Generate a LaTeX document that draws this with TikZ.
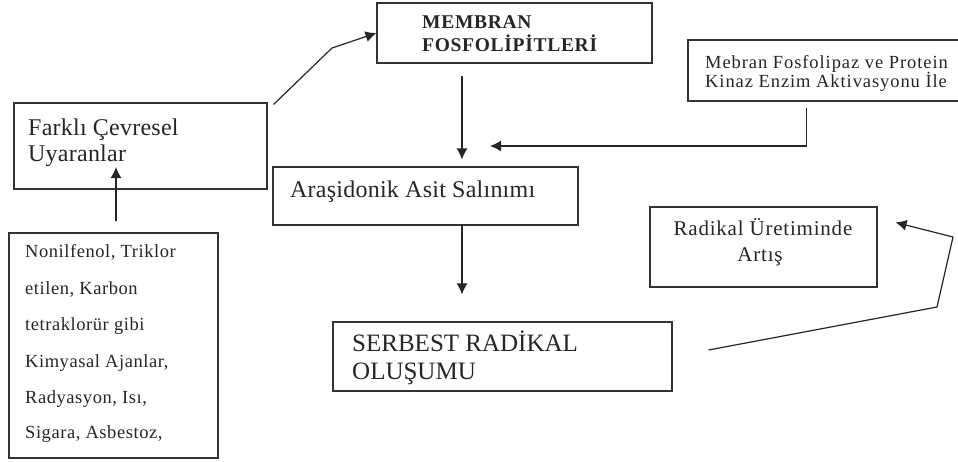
\documentclass[tikz,border=0pt]{standalone}
\usepackage{fontspec}
\setmainfont{Liberation Serif}
\usetikzlibrary{arrows.meta,calc}

\begin{document}
\begin{tikzpicture}[x=1pt,y=-1pt,
  box/.style={draw=black!80,line width=1.1pt,inner sep=0pt,fill=none},
  txt/.style={anchor=base west,inner sep=0pt,text=black!85},
  ctxt/.style={anchor=base,inner sep=0pt,text=black!85},
  arr/.style={draw=black!85,line width=1.2pt,-{Latex[length=11pt,width=11pt]}},
  fA/.style={font=\fontsize{24}{26}\selectfont\addfontfeatures{LetterSpace=1}},
  fB/.style={font=\fontsize{19.5}{22}\selectfont\bfseries\addfontfeatures{LetterSpace=3.6}},
  fC/.style={font=\fontsize{18.5}{20}\selectfont\addfontfeatures{LetterSpace=5}},
  fD/.style={font=\fontsize{24}{26}\selectfont\addfontfeatures{LetterSpace=1}},
  fE/.style={font=\fontsize{25}{28}\selectfont},
  fF/.style={font=\fontsize{21}{24}\selectfont\addfontfeatures{LetterSpace=3.7}},
  fG/.style={font=\fontsize{18.5}{20}\selectfont\addfontfeatures{LetterSpace=3}}]
\useasboundingbox[fill=white] (0,0) rectangle (958,461);

% boxes
\node[box,minimum width=253pt,minimum height=86pt] (farkli) at (140.5,146) {};
\node[box,minimum width=275pt,minimum height=60pt] (membran) at (514.5,33) {};
\node[box,minimum width=274pt,minimum height=61pt] (mebran) at (825,70.5) {};
\node[box,minimum width=305pt,minimum height=58pt] (arasidonik) at (425.5,196) {};
\node[box,minimum width=339pt,minimum height=69pt] (serbest) at (502.5,356.5) {};
\node[box,minimum width=227pt,minimum height=80pt] (radikal) at (763.5,247) {};
\node[box,minimum width=209pt,minimum height=225pt] (nonil) at (113.5,345.5) {};

% box texts
\node[txt,fA] (farkliA) at (28,135) {Farklı Çevresel};
\node[txt,fA] (farkliB) at (28,161) {Uyaranlar};

\node[txt,fB] (membranA) at (422,28) {MEMBRAN};
\node[txt,fB] (membranB) at (422,51) {FOSFOLİPİTLERİ};

\node[txt,fC] (mebranA) at (705,68) {Mebran Fosfolipaz ve Protein};
\node[txt,fC] (mebranB) at (705,87) {Kinaz Enzim Aktivasyonu İle};

\node[txt,fD] (arasidonikA) at (290,197) {Araşidonik Asit Salınımı};

\node[txt,fE] (serbestA) at (352,351) {SERBEST RADİKAL};
\node[txt,fE] (serbestB) at (352,379) {OLUŞUMU};

\node[ctxt,fF] (radikalA) at (763,235) {Radikal Üretiminde};
\node[ctxt,fF] (radikalB) at (760,261) {Artış};

\node[txt,fG] (nonilA) at (25,257) {Nonilfenol, Triklor};
\node[txt,fG] (nonilB) at (25,294) {etilen, Karbon};
\node[txt,fG] (nonilC) at (25,330) {tetraklorür gibi};
\node[txt,fG] (nonilD) at (25,367) {Kimyasal Ajanlar,};
\node[txt,fG] (nonilE) at (25,403) {Radyasyon, Isı,};
\node[txt,fG] (nonilF) at (25,438) {Sigara, Asbestoz,};

% connector end points
\coordinate (bendA) at (332,48);
\coordinate (mebranOut) at ($(mebran.south west)+(119,6)$);
\coordinate (mebranIn) at (490,146);
\coordinate (serbestOut) at ($(serbest.east)+(36,-6.5)$);
\coordinate (loopA) at (937,307);
\coordinate (loopB) at (953,237);
\coordinate (radikalIn) at ($(radikal.north east)+(18,16)$);

% connectors
\draw[arr] ($(farkli.north east)+(6,2)$) -- (bendA) -- (membran.west);
\draw[arr,shorten <=12pt,shorten >=7pt] (462,0 |- membran.south) -- (462,0 |- arasidonik.north);
\draw[arr] (mebranOut) -- (mebranOut |- mebranIn) -- (mebranIn);
\draw[arr,shorten >=27pt] (462,0 |- arasidonik.south) -- (462,0 |- serbest.north);
\draw[arr,shorten <=11pt] (116,0 |- nonil.north) -- (116,167);
\draw[arr] (serbestOut) -- (loopA) -- (loopB) -- (radikalIn);
\end{tikzpicture}
\end{document}
